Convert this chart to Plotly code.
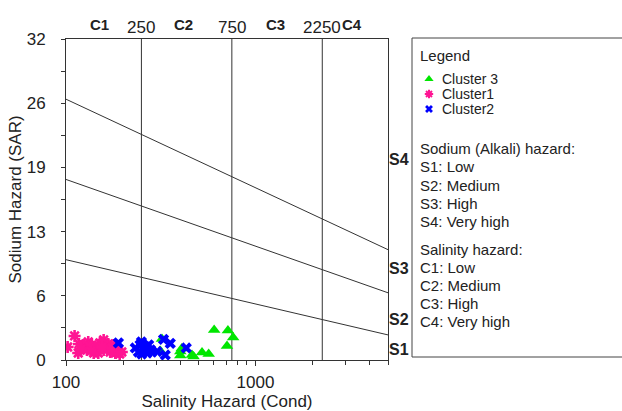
import math
import plotly.graph_objects as go

# ---- sample data: conductivity (EC) and sodium adsorption ratio (SAR) ----
cluster3_ec = [315, 321, 401, 408, 401, 462, 471, 522, 566, 605, 715, 762, 707]
cluster3_sar = [0.9, 2.1, 0.85, 1.15, 0.45, 0.5, 0.35, 0.75, 0.6, 3.0, 2.95, 2.25, 1.4]

cluster1_ec = [102, 111, 117, 116, 124, 129, 131, 137, 140, 145, 148, 151, 158, 158,
               164, 167, 171, 178, 182, 189, 197, 120, 135, 155, 175, 192]
cluster1_sar = [1.3, 2.4, 1.6, 0.7, 1.5, 1.0, 1.8, 1.5, 0.7, 1.2, 0.7, 1.7, 2.0, 1.0,
                1.3, 1.6, 0.8, 1.5, 0.7, 1.0, 0.8, 1.1, 0.9, 1.3, 1.2, 0.6]

cluster2_ec = [189, 232, 241, 246, 250, 251, 258, 262, 268, 273, 280, 284, 302,
               327, 355, 334, 431]
cluster2_sar = [1.7, 1.2, 0.8, 1.5, 1.8, 0.6, 1.0, 1.3, 0.7, 1.5, 1.0, 0.8, 0.85,
                2.05, 1.65, 0.5, 1.2]

# salinity class boundaries (EC) and sodium class boundary lines (SAR at EC ends)
salinity_bounds = [250, 750, 2250]
salinity_bound_labels = ["250", "750", "2250"]
salinity_classes = ["C1", "C2", "C3", "C4"]
salinity_class_pos = [150, 415, 1280, 3220]

ec_range = [100, 5000]
sodium_line_start = [10.0, 18.0, 26.0]
sodium_line_end = [2.5, 6.7, 11.0]
sodium_classes = ["S1", "S2", "S3", "S4"]
sodium_class_pos = [1.0, 4.0, 9.1, 20.0]

y_tick_vals = [0, 6.4, 12.8, 19.2, 25.6, 32]
y_tick_text = ["0", "6", "13", "19", "26", "32"]
x_tick_vals = [100, 1000]
x_tick_text = ["100", "1000"]
x_minor_vals = [200, 300, 400, 500, 600, 700, 800, 900, 2000, 3000, 4000, 5000]

sodium_legend = ["Sodium (Alkali) hazard:", "S1: Low", "S2: Medium", "S3: High", "S4: Very high"]
salinity_legend = ["Salinity hazard:", "C1: Low", "C2: Medium", "C3: High", "C4: Very high"]

FONT = "Liberation Sans, Arial, sans-serif"
INK = "#222222"
LINE = "#333333"

W, H = 622, 411
ML, MT, MB = 66, 39, 51
PLOT_W = 322
AREA_W = W - ML

series = [
    dict(name="Cluster 3", x=cluster3_ec, y=cluster3_sar, symbol="triangle-up",
         color="#00e600", size=11, lw=0, lsize=8),
    dict(name="Cluster1", x=cluster1_ec, y=cluster1_sar, symbol="asterisk-open",
         color="#ff1493", size=10, lw=2.6, lsize=7),
    dict(name="Cluster2", x=cluster2_ec, y=cluster2_sar, symbol="x",
         color="#0000ff", size=10, lw=0, lsize=7),
]

fig = go.Figure()

# class boundary lines
for b in salinity_bounds:
    fig.add_trace(go.Scatter(x=[b, b], y=[0, 32], mode="lines",
                             line=dict(color=LINE, width=1), showlegend=False,
                             hoverinfo="skip"))
for s0, s1 in zip(sodium_line_start, sodium_line_end):
    fig.add_trace(go.Scatter(x=ec_range, y=[s0, s1], mode="lines",
                             line=dict(color=LINE, width=1), showlegend=False,
                             hoverinfo="skip"))

# sample points
for s in series:
    mk = dict(symbol=s["symbol"], size=s["size"], color=s["color"])
    if s["lw"]:
        mk["line"] = dict(color=s["color"], width=s["lw"])
    else:
        mk["line"] = dict(width=0)
    fig.add_trace(go.Scatter(x=s["x"], y=s["y"], mode="markers", name=s["name"],
                             marker=mk, showlegend=False))

# legend panel drawn on its own hidden axes (units: pixels within the panel)
legend_rows = [40, 55, 70]
for s, ry in zip(series, legend_rows):
    mk = dict(symbol=s["symbol"], size=s["lsize"], color=s["color"])
    if s["lw"]:
        mk["line"] = dict(color=s["color"], width=2)
    else:
        mk["line"] = dict(width=0)
    fig.add_trace(go.Scatter(x=[17], y=[ry], mode="markers", marker=mk,
                             xaxis="x2", yaxis="y2", showlegend=False,
                             hoverinfo="skip"))

annotations = []


def legend_text(txt, ry, rx=7, size=15):
    annotations.append(dict(text=txt, x=rx, y=ry, xref="x2", yref="y2",
                            xanchor="left", yanchor="middle", showarrow=False,
                            borderpad=0,
                            font=dict(family=FONT, size=size, color=INK)))


legend_text("Legend", 16)
for s, ry in zip(series, legend_rows):
    legend_text(s["name"], ry, rx=29, size=14)
for i, t in enumerate(sodium_legend):
    legend_text(t, 109.5 + 18.3 * i)
for i, t in enumerate(salinity_legend):
    legend_text(t, 210 + 18.2 * i)

# salinity class labels above the plot
for name, pos in zip(salinity_classes, salinity_class_pos):
    annotations.append(dict(text="<b>%s</b>" % name, x=math.log10(pos), y=(360 - 24) / 321,
                            xref="x", yref="paper", showarrow=False,
                            xanchor="center", yanchor="middle",
                            font=dict(family=FONT, size=15, color=INK)))
for lab, b in zip(salinity_bound_labels, salinity_bounds):
    annotations.append(dict(text=lab, x=math.log10(b), y=(360 - 27.5) / 321,
                            xref="x", yref="paper", showarrow=False,
                            xanchor="center", yanchor="middle",
                            font=dict(family=FONT, size=17, color=INK)))

# sodium class labels at the right edge
for name, pos in zip(sodium_classes, sodium_class_pos):
    annotations.append(dict(text="<b>%s</b>" % name, x=(387 - ML) / AREA_W, y=pos,
                            xref="paper", yref="y", showarrow=False,
                            xanchor="left", yanchor="middle",
                            font=dict(family=FONT, size=16, color=INK)))

fig.update_layout(
    width=W, height=H,
    margin=dict(l=ML, r=0, t=MT, b=MB, pad=0),
    paper_bgcolor="white", plot_bgcolor="white",
    font=dict(family=FONT, color=INK),
    showlegend=False,
    annotations=annotations,
    shapes=[dict(type="rect", xref="paper", yref="paper",
                 x0=(412 - ML) / AREA_W, x1=1.05,
                 y0=(360 - 357) / 321, y1=(360 - 38) / 321,
                 line=dict(color="#444444", width=1), fillcolor="rgba(0,0,0,0)")],
    xaxis=dict(
        type="log", range=[math.log10(ec_range[0]), math.log10(ec_range[1])],
        domain=[0, PLOT_W / AREA_W], anchor="y",
        showline=True, mirror=True, linecolor=LINE, linewidth=1,
        showgrid=False, zeroline=False,
        tickmode="array", tickvals=x_tick_vals, ticktext=x_tick_text,
        ticks="outside", ticklen=5, tickcolor=LINE,
        minor=dict(tickmode="array", tickvals=x_minor_vals, ticks="outside",
                   ticklen=4, tickcolor=LINE, showgrid=False),
        tickfont=dict(family=FONT, size=17, color=INK),
        ticklabelstandoff=2,
        title=dict(text="Salinity Hazard (Cond)", standoff=4,
                   font=dict(family=FONT, size=17, color=INK)),
    ),
    yaxis=dict(
        range=[0, 32], anchor="x",
        showline=True, mirror=True, linecolor=LINE, linewidth=1,
        showgrid=False, zeroline=False,
        tickmode="array", tickvals=y_tick_vals, ticktext=y_tick_text,
        ticks="outside", ticklen=4, tickcolor=LINE,
        minor=dict(dtick=3.2, ticks="outside", ticklen=4, tickcolor=LINE, showgrid=False),
        tickfont=dict(family=FONT, size=17, color=INK),
        ticklabelstandoff=12,
        title=dict(text="Sodium Hazard (SAR)", standoff=0,
                   font=dict(family=FONT, size=17, color=INK)),
    ),
    xaxis2=dict(domain=[(412 - ML) / AREA_W, 1], range=[0, W - 412], anchor="y2",
                visible=False, fixedrange=True),
    yaxis2=dict(domain=[0, 1], range=[321, 0], anchor="x2",
                visible=False, fixedrange=True),
)

fig.write_html("out.html")
